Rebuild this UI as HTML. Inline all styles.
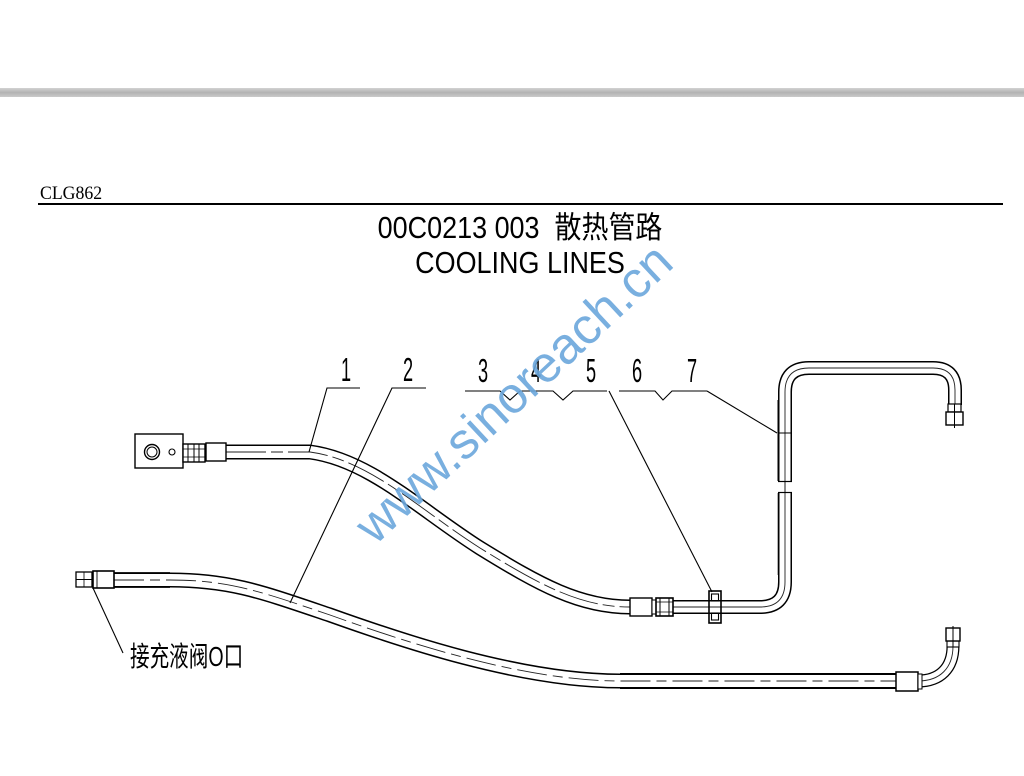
<!DOCTYPE html>
<html>
<head>
<meta charset="utf-8">
<style>
  html, body { margin: 0; padding: 0; background: #fff; }
  body { width: 1024px; height: 776px; overflow: hidden; position: relative; }
  svg { position: absolute; left: 0; top: 0; }
</style>
</head>
<body>
<svg width="1024" height="776" viewBox="0 0 1024 776" xmlns="http://www.w3.org/2000/svg">
  <defs>
    <linearGradient id="bar" x1="0" y1="0" x2="0" y2="1">
      <stop offset="0" stop-color="#d2d2d2"/>
      <stop offset="0.5" stop-color="#b3b3b3"/>
      <stop offset="1" stop-color="#cacaca"/>
    </linearGradient>
  </defs>

  <!-- top gray bar -->
  <rect x="0" y="88" width="1024" height="9" fill="url(#bar)"/>

  <!-- header -->
  <text transform="translate(40,199) scale(0.96,1)" font-family="'Liberation Serif', serif" font-size="18.5" fill="#000">CLG862</text>
  <rect x="38" y="203" width="965" height="2" fill="#000"/>

  <!-- title -->
  <text transform="translate(520,238) scale(0.93,1.05)" text-anchor="middle" font-family="'Liberation Sans', 'Noto Sans CJK SC', sans-serif" font-size="29" fill="#000">00C0213 003&#160;&#160;散热管路</text>
  <text transform="translate(520,273) scale(0.93,1.05)" text-anchor="middle" font-family="'Liberation Sans', sans-serif" font-size="29" fill="#000">COOLING LINES</text>

  <!-- ===== Upper hose (item 1) ===== -->
  <g fill="none" stroke-linecap="butt">
    <path d="M 226 452 L 310 452 C 370 460 420 510 480 548 C 540 585 580 607 630 607" stroke="#000" stroke-width="15"/>
    <path d="M 226 452 L 310 452 C 370 460 420 510 480 548 C 540 585 580 607 630 607" stroke="#fff" stroke-width="12"/>
    <path d="M 226 452 L 310 452 C 370 460 420 510 480 548 C 540 585 580 607 630 607" stroke="#222" stroke-width="0.9" stroke-dasharray="40 5 12 5"/>
  </g>

  <!-- fitting block -->
  <rect x="135" y="434" width="48" height="34" fill="#fff" stroke="#000" stroke-width="1.4"/>
  <circle cx="152" cy="452" r="7.5" fill="none" stroke="#000" stroke-width="1.4"/>
  <circle cx="152" cy="452" r="5" fill="none" stroke="#000" stroke-width="1"/>
  <circle cx="172" cy="452" r="3" fill="none" stroke="#000" stroke-width="1.1"/>
  <!-- nut -->
  <rect x="183" y="444" width="22" height="18" fill="#fff" stroke="#000" stroke-width="1.4"/>
  <line x1="188" y1="444" x2="188" y2="462" stroke="#000" stroke-width="1"/>
  <line x1="194" y1="444" x2="194" y2="462" stroke="#000" stroke-width="1"/>
  <line x1="199" y1="444" x2="199" y2="462" stroke="#000" stroke-width="1"/>
  <line x1="183" y1="449" x2="205" y2="449" stroke="#000" stroke-width="0.8"/>
  <line x1="183" y1="457" x2="205" y2="457" stroke="#000" stroke-width="0.8"/>
  <!-- sleeve -->
  <rect x="206" y="443" width="20" height="18" fill="#fff" stroke="#000" stroke-width="1.4"/>

  <!-- ===== Tube (right) ===== -->
  <g fill="none">
    <path d="M 673 607 L 760 607 Q 785 607 785 582 L 785 392 Q 785 368 809 368 L 933 368 Q 955 368 955 390 L 955 405" stroke="#000" stroke-width="14"/>
    <path d="M 673 607 L 760 607 Q 785 607 785 582 L 785 392 Q 785 368 809 368 L 933 368 Q 955 368 955 390 L 955 405" stroke="#fff" stroke-width="11"/>
    <path d="M 673 607 L 760 607 Q 785 607 785 582 L 785 392 Q 785 368 809 368 L 933 368 Q 955 368 955 390 L 955 405" stroke="#222" stroke-width="0.9"/>
  </g>
  <line x1="778.5" y1="400" x2="778.5" y2="481" stroke="#000" stroke-width="2"/>
  <line x1="778.5" y1="493" x2="778.5" y2="575" stroke="#000" stroke-width="1.6"/>
  <!-- break in vertical -->
  <rect x="776" y="482" width="18" height="10" fill="#fff"/>
  <line x1="778" y1="481.5" x2="792" y2="481.5" stroke="#000" stroke-width="1.2"/>
  <line x1="778" y1="492.5" x2="792" y2="492.5" stroke="#000" stroke-width="1.2"/>
  <line x1="785" y1="482" x2="785" y2="492" stroke="#000" stroke-width="0.9"/>
  <line x1="778" y1="433" x2="792" y2="433" stroke="#000" stroke-width="1"/>

  <!-- top right fitting -->
  <rect x="948" y="404" width="13" height="8" fill="#fff" stroke="#000" stroke-width="1.2"/>
  <rect x="946" y="412" width="17" height="13" fill="#fff" stroke="#000" stroke-width="1.4"/>
  <line x1="954.5" y1="404" x2="954.5" y2="428" stroke="#000" stroke-width="1"/>

  <!-- hose-to-tube fitting -->
  <rect x="630" y="598" width="22" height="18" fill="#fff" stroke="#000" stroke-width="1.4"/>
  <rect x="652" y="600" width="4" height="14" fill="#fff" stroke="#000" stroke-width="1"/>
  <rect x="656" y="598" width="17" height="18" fill="#fff" stroke="#000" stroke-width="1.6"/>
  <line x1="660" y1="598" x2="660" y2="616" stroke="#000" stroke-width="1"/>
  <line x1="669" y1="598" x2="669" y2="616" stroke="#000" stroke-width="1"/>
  <line x1="656" y1="602" x2="673" y2="602" stroke="#000" stroke-width="0.8"/>
  <line x1="656" y1="612" x2="673" y2="612" stroke="#000" stroke-width="0.8"/>

  <!-- clamp -->
  <rect x="709" y="591" width="12" height="32" fill="none" stroke="#000" stroke-width="1.6"/>
  <rect x="711.5" y="594" width="7" height="7" fill="none" stroke="#000" stroke-width="1.1"/>
  <rect x="711.5" y="613" width="7" height="7" fill="none" stroke="#000" stroke-width="1.1"/>

  <!-- ===== Lower hose (item 2) ===== -->
  <g fill="none">
    <path d="M 114 580 L 170 580 C 230 580 262 592 330 615 C 400 640 520 681 620 681 L 896 681" stroke="#000" stroke-width="15"/>
    <path d="M 114 580 L 170 580 C 230 580 262 592 330 615 C 400 640 520 681 620 681 L 896 681" stroke="#fff" stroke-width="12"/>
    <path d="M 114 580 L 170 580 C 230 580 262 592 330 615 C 400 640 520 681 620 681 L 896 681" stroke="#222" stroke-width="0.9" stroke-dasharray="30 6 10 6"/>
    <path d="M 918 681 C 940 681 953 668 953 646" stroke="#000" stroke-width="13"/>
    <path d="M 918 681 C 940 681 953 668 953 646" stroke="#fff" stroke-width="10.5"/>
    <path d="M 918 681 C 940 681 953 668 953 646" stroke="#222" stroke-width="0.9"/>
  </g>
  <line x1="620" y1="674" x2="896" y2="674" stroke="#000" stroke-width="2"/>
  <line x1="620" y1="688" x2="896" y2="688" stroke="#000" stroke-width="2"/>
  <line x1="114" y1="573" x2="170" y2="573" stroke="#000" stroke-width="1.8"/>
  <line x1="114" y1="587" x2="170" y2="587" stroke="#000" stroke-width="1.8"/>

  <!-- left fittings lower -->
  <rect x="76" y="572" width="16" height="15" fill="#fff" stroke="#000" stroke-width="1.3"/>
  <line x1="76" y1="579.5" x2="92" y2="579.5" stroke="#000" stroke-width="1"/>
  <line x1="84" y1="572" x2="84" y2="587" stroke="#000" stroke-width="0.8"/>
  <rect x="93" y="571" width="21" height="17" fill="#fff" stroke="#000" stroke-width="1.6"/>
  <line x1="97" y1="571" x2="97" y2="588" stroke="#000" stroke-width="0.9"/>

  <!-- right fittings lower -->
  <rect x="896" y="672" width="22" height="19" fill="#fff" stroke="#000" stroke-width="1.5"/>
  <rect x="918" y="674" width="4" height="15" fill="#fff" stroke="#000" stroke-width="1"/>
  <rect x="947" y="641" width="12" height="6" fill="#fff" stroke="#000" stroke-width="1.1"/>
  <rect x="946" y="628" width="14" height="13" fill="#fff" stroke="#000" stroke-width="1.4"/>
  <line x1="953" y1="626" x2="953" y2="647" stroke="#000" stroke-width="1"/>

  <!-- ===== Leaders & labels ===== -->
  <g fill="none" stroke="#000" stroke-width="1.1">
    <polyline points="360,388 327,388 309,452"/>
    <polyline points="426,388 392,388 290,603"/>
    <polyline points="465,391 500,391 510,400 520,391 553,391 563,400 573,391 607,391"/>
    <line x1="609" y1="391" x2="712" y2="592"/>
    <polyline points="619,391 655,391 663,400 672,391 707,391"/>
    <line x1="707" y1="391" x2="777" y2="433"/>
    <line x1="93" y1="588" x2="123" y2="653"/>
  </g>

  <g font-family="'Liberation Sans', sans-serif" font-size="33" fill="#000">
    <text transform="translate(341,381) scale(0.55,1)">1</text>
    <text transform="translate(403,381) scale(0.55,1)">2</text>
    <text transform="translate(478,382) scale(0.55,1)">3</text>
    <text transform="translate(531,382) scale(0.55,1)">4</text>
    <text transform="translate(586,382) scale(0.55,1)">5</text>
    <text transform="translate(632,382) scale(0.55,1)">6</text>
    <text transform="translate(687,382) scale(0.55,1)">7</text>
  </g>

  <text transform="translate(130,666) scale(0.7,1)" font-family="'Liberation Sans', 'Noto Sans CJK SC', sans-serif" font-size="28" fill="#000">接充液阀O口</text>

  <!-- watermark -->
  <text transform="translate(375,546) rotate(-43)" font-family="'Liberation Sans', sans-serif" font-size="51" fill="#6aa6dc" fill-opacity="0.9">www.sinoreach.cn</text>
</svg>
</body>
</html>
